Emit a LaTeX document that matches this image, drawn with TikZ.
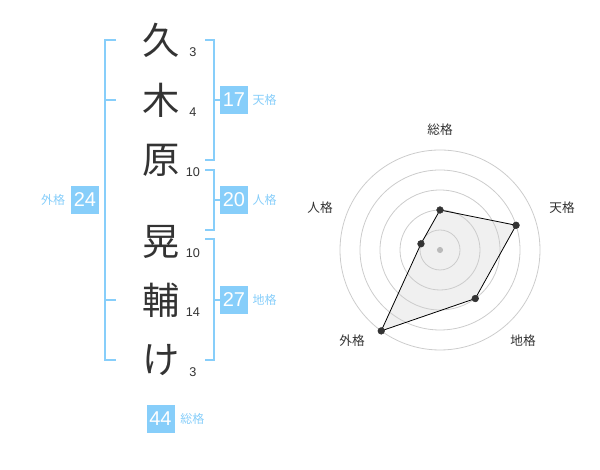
\documentclass[tikz,border=0pt]{standalone}
\usepackage{fontspec}
\setmainfont{Liberation Sans}
\newfontfamily\jpfont{Noto Sans CJK JP}
\usetikzlibrary{positioning}
\definecolor{kakublue}{RGB}{135,206,250}
\definecolor{inkgray}{RGB}{51,51,51}
\definecolor{ringgray}{RGB}{204,204,204}
\definecolor{fillgray}{RGB}{240,240,240}
\tikzset{kanji/.style={font=\jpfont\fontsize{28}{28}\selectfont,text=inkgray,inner sep=0pt}}
\tikzset{kakusu/.style={font=\fontsize{9.5}{10}\selectfont,text=inkgray,inner sep=0pt}}
\tikzset{kakubox/.style={fill=kakublue,text=white,minimum size=21pt,inner sep=0pt,font=\fontsize{15}{15}\selectfont}}
\tikzset{kakuname/.style={text=kakublue,font=\jpfont\fontsize{9}{9}\selectfont,inner sep=0pt}}
\tikzset{bracket/.style={kakublue,line width=1.5pt}}
\tikzset{radarname/.style={text=inkgray,font=\jpfont\fontsize{9.5}{10}\selectfont,inner sep=0pt}}

\begin{document}
\begin{tikzpicture}[x=0.75pt,y=0.75pt]
\useasboundingbox (0,0) rectangle (600,470);

% name
\node[kanji] (c1) at (161,430) {久};
\node[kanji] (c2) at (161,370) {木};
\node[kanji] (c3) at (161,310) {原};
\node[kanji] (c4) at (161,228) {晃};
\node[kanji] (c5) at (161,170) {輔};
\node[kanji] (c6) at (161,110) {け};

% strokes
\node[kakusu] (s1) at (193,418) {3};
\node[kakusu] (s2) at (193,358) {4};
\node[kakusu] (s3) at (193,298) {10};
\node[kakusu] (s4) at (193,217) {10};
\node[kakusu] (s5) at (193,158) {14};
\node[kakusu] (s6) at (193,98) {3};

% boxes
\node[kakubox] (b17) at (234,370) {17};
\node[kakuname,right=3pt of b17] (n17) {天格};
\node[kakubox] (b20) at (234,270) {20};
\node[kakuname,right=3pt of b20] (n20) {人格};
\node[kakubox] (b27) at (234,170) {27};
\node[kakuname,right=3pt of b27] (n27) {地格};
\node[kakubox] (b24) at (85,270) {24};
\node[kakuname,left=4pt of b24] (n24) {外格};
\node[kakubox] (b44) at (160.5,51) {44};
\node[kakuname,right=4pt of b44] (n44) {総格};

% brackets
\draw[bracket] (205,430) -- (214,430) -- (214,310) -- (205,310);
\draw[bracket] (214,370) -- (b17.west);
\draw[bracket] (205,300) -- (214,300) -- (214,240) -- (205,240);
\draw[bracket] (214,270) -- (b20.west);
\draw[bracket] (205,231) -- (214,231) -- (214,110) -- (205,110);
\draw[bracket] (214,170) -- (b27.west);
\draw[bracket] (116,430) -- (105,430) -- (105,110) -- (116,110);
\draw[bracket] (105,370) -- (116,370);
\draw[bracket] (105,170) -- (116,170);

% radar
\coordinate (o) at (440,220);
\coordinate (p1) at ([shift={(90:30pt)}]o);
\coordinate (p2) at ([shift={(18:60pt)}]o);
\coordinate (p3) at ([shift={(-54:45pt)}]o);
\coordinate (p4) at ([shift={(-126:75pt)}]o);
\coordinate (p5) at ([shift={(162:15pt)}]o);

\fill[fillgray] (p1) -- (p2) -- (p3) -- (p4) -- (p5) -- cycle;
\draw[ringgray,line width=0.6pt] (o) circle (15pt);
\draw[ringgray,line width=0.6pt] (o) circle (30pt);
\draw[ringgray,line width=0.6pt] (o) circle (45pt);
\draw[ringgray,line width=0.6pt] (o) circle (60pt);
\draw[ringgray,line width=0.6pt] (o) circle (75pt);
\fill[black!27] (o) circle (2.3pt);
\draw[black,line width=0.6pt] (p1) -- (p2) -- (p3) -- (p4) -- (p5) -- cycle;

\filldraw[inkgray] (p1) circle (2.5pt);
\filldraw[inkgray] (p2) circle (2.5pt);
\filldraw[inkgray] (p3) circle (2.5pt);
\filldraw[inkgray] (p4) circle (2.5pt);
\filldraw[inkgray] (p5) circle (2.5pt);

\node[radarname] (r1) at (440,340) {総格};
\node[radarname] (r2) at (562,262) {天格};
\node[radarname] (r3) at (523,129) {地格};
\node[radarname] (r4) at (352,129) {外格};
\node[radarname] (r5) at (320,262) {人格};

\end{tikzpicture}
\end{document}
